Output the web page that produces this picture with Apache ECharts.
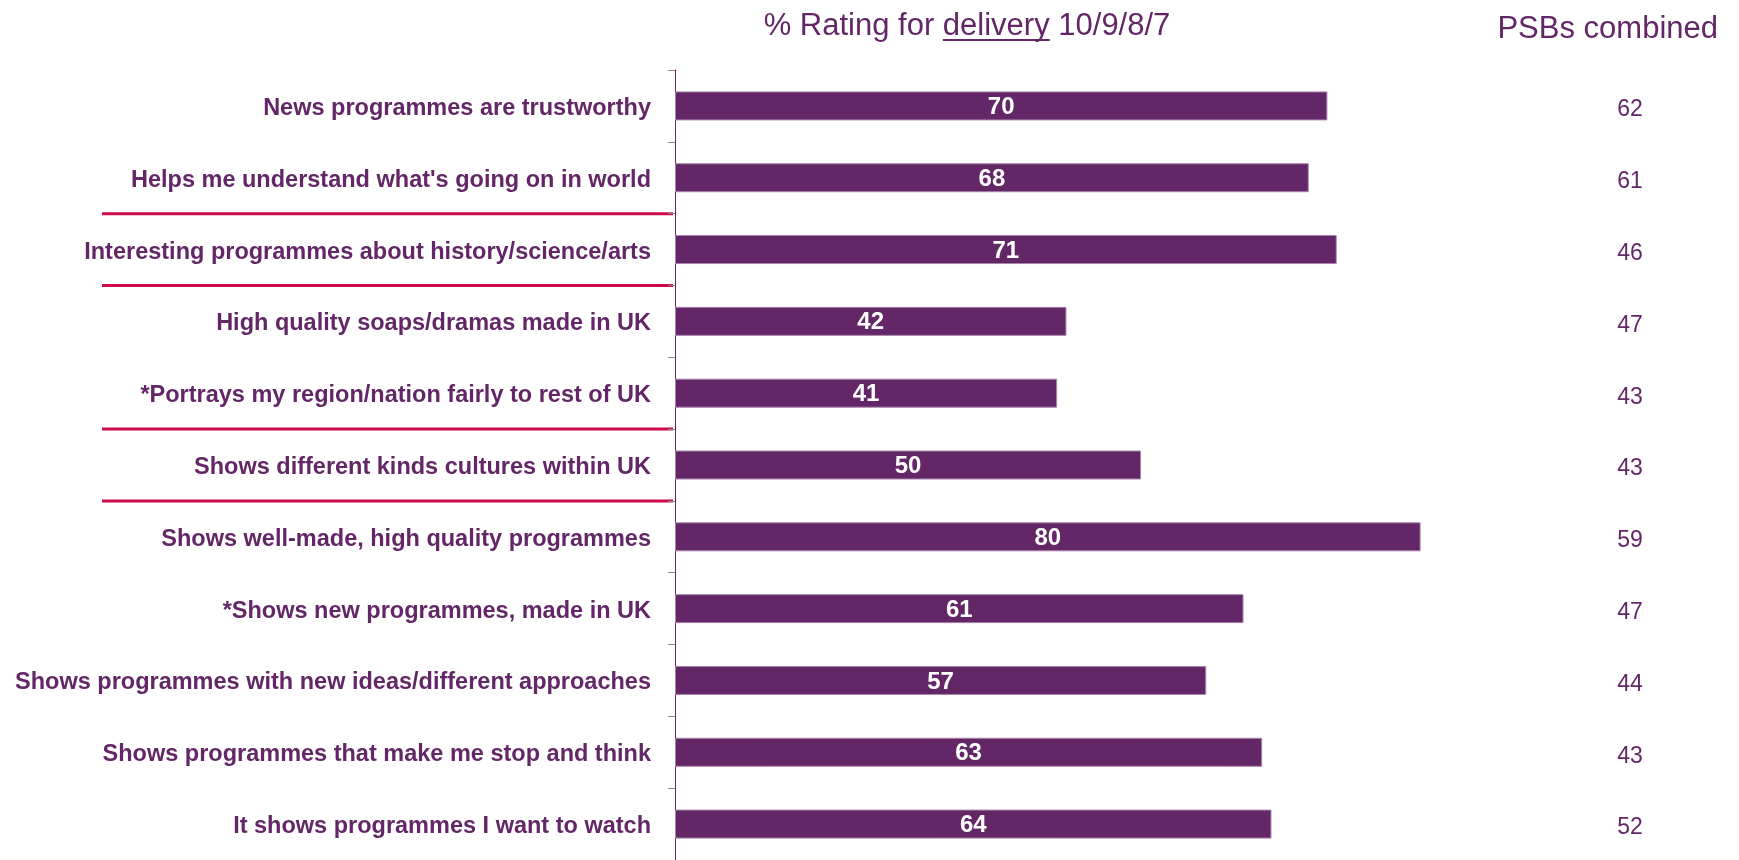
<!DOCTYPE html>
<html>
<head>
<meta charset="utf-8">
<script src="https://cdn.jsdelivr.net/npm/echarts@6/dist/echarts.min.js"></script>
<style>
html,body{margin:0;padding:0;background:#fff;}
#chart{width:1739px;height:860px;}
</style>
</head>
<body>
<div id="chart"></div>
<script>
const categories = [
  "News programmes are trustworthy",
  "Helps me understand what's going on in world",
  "Interesting programmes about history/science/arts",
  "High quality soaps/dramas made in UK",
  "*Portrays my region/nation fairly to rest of UK",
  "Shows different kinds cultures within UK",
  "Shows well-made, high quality programmes",
  "*Shows new programmes, made in UK",
  "Shows programmes with new ideas/different approaches",
  "Shows programmes that make me stop and think",
  "It shows programmes I want to watch"
];
const deliveryValues = [70, 68, 71, 42, 41, 50, 80, 61, 57, 63, 64];
const psbCombined = [62, 61, 46, 47, 43, 43, 59, 47, 44, 43, 52];
const separatorsAfter = [1, 2, 4, 5];
const titlePre = "% Rating for ";
const titleUnderlined = "delivery";
const titlePost = " 10/9/8/7";
const rightHeader = "PSBs combined";

const FONT = '"Liberation Sans", Arial, sans-serif';
const PURPLE = '#632767';
const chart = echarts.init(document.getElementById('chart'), null, {renderer: 'canvas'});

const option = {
  animation: false,
  backgroundColor: '#ffffff',
  grid: {left: 675, right: 132, top: 70, height: 793, containLabel: false},
  xAxis: {type: 'value', min: 0, max: 100, show: false},
  yAxis: [
    {
      type: 'category', data: categories, inverse: true,
      axisLine: {show: true, lineStyle: {color: PURPLE, width: 1}},
      axisTick: {show: true, length: 7, lineStyle: {color: '#9c7c9e', width: 1}},
      axisLabel: {margin: 24, color: PURPLE, fontFamily: FONT, fontWeight: 'bold', fontSize: 23.5, verticalAlign: 'top', lineHeight: 5}
    },
    {
      type: 'category', data: psbCombined.map(String), inverse: true, position: 'right',
      axisLine: {show: false}, axisTick: {show: false},
      axisLabel: {margin: 23, align: 'center', color: PURPLE, fontFamily: FONT, fontSize: 23, verticalAlign: 'top', lineHeight: 8}
    }
  ],
  series: [{
    type: 'bar', data: deliveryValues, barWidth: 29, yAxisIndex: 0,
    itemStyle: {color: PURPLE, borderColor: '#a884aa', borderWidth: 1},
    label: {show: true, position: 'inside', color: '#ffffff', fontFamily: FONT, fontWeight: 'bold', fontSize: 24, offset: [0, 1.5]}
  }]
};
chart.setOption(option);

// Title with underlined word
const ctx = document.createElement('canvas').getContext('2d');
const tSize = 31;
ctx.font = tSize + 'px ' + FONT;
const wPre = ctx.measureText(titlePre).width;
const wU = ctx.measureText(titleUnderlined).width;
const wAll = ctx.measureText(titlePre + titleUnderlined + titlePost).width;
const titleCenter = 967;
const tLeft = titleCenter - wAll / 2;

const graphics = [
  {type: 'text', x: tLeft, y: 26.5, style: {text: titlePre + titleUnderlined + titlePost, font: tSize + 'px ' + FONT, fill: PURPLE, textAlign: 'left', textVerticalAlign: 'middle'}},
  {type: 'line', shape: {x1: tLeft + wPre, y1: 40, x2: tLeft + wPre + wU, y2: 40}, style: {stroke: PURPLE, lineWidth: 2}},
  {type: 'text', x: 1718, y: 29.5, style: {text: rightHeader, font: tSize + 'px ' + FONT, fill: PURPLE, textAlign: 'right', textVerticalAlign: 'middle'}}
];
separatorsAfter.forEach(function (i) {
  const y1 = chart.convertToPixel({yAxisIndex: 0}, categories[i]);
  const y2 = chart.convertToPixel({yAxisIndex: 0}, categories[i + 1]);
  const y = (y1 + y2) / 2;
  graphics.push({type: 'line', shape: {x1: 102, y1: y, x2: 673, y2: y}, style: {stroke: '#cc0a47', lineWidth: 3}});
});
chart.setOption({graphic: graphics});
</script>
</body>
</html>
